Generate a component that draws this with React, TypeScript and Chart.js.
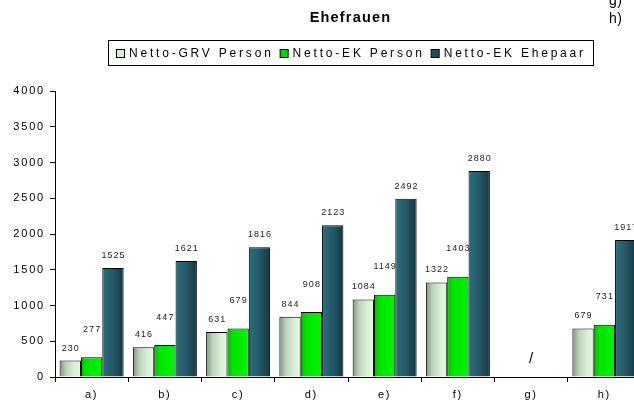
import React, { useEffect, useRef } from "react";
import { Chart, registerables } from "chart.js";

Chart.register(...registerables);

// ---------- data ----------
const chartTitle = "Ehefrauen";
const categories = ["a)", "b)", "c)", "d)", "e)", "f)", "g)", "h)"];
const seriesNames = ["Netto-GRV Person", "Netto-EK Person", "Netto-EK Ehepaar"];
const grvPerson: (number | null)[] = [230, 416, 631, 844, 1084, 1322, null, 679];
const ekPerson: (number | null)[] = [277, 447, 679, 908, 1149, 1403, null, 731];
const ekEhepaar: (number | null)[] = [1525, 1621, 1816, 2123, 2492, 2880, null, 1917];
const yMin = 0;
const yMax = 4000;
const yStep = 500;
const missingCategory = "g)";
const missingMarker = "/";
const cornerNotes = ["g)", "h)"];

// ---------- styles ----------
const FONT = "Arial, 'Liberation Sans', sans-serif";
const gradientStops: [number, string][][] = [
  [
    [0, "#7f917e"],
    [0.3, "#bcd3ba"],
    [0.7, "#d9f1d6"],
    [1, "#e3f9e0"],
  ],
  [
    [0, "#00b800"],
    [0.25, "#00e400"],
    [1, "#00f400"],
  ],
  [
    [0, "#2d6d7d"],
    [0.5, "#255968"],
    [1, "#153640"],
  ],
];
const swatchColors = ["#d4efd0", "#00d800", "#1f4f5c"];
const labelLift = [12.5, 28, 12.5];

const decorPlugin = {
  id: "decor",
  beforeDraw(chart: any) {
    chart.ctx.letterSpacing = "1.8px";
  },
  beforeDatasetsDraw(chart: any) {
    const ctx = chart.ctx;
    chart.data.datasets.forEach((_: any, di: number) => {
      const meta = chart.getDatasetMeta(di);
      meta.data.forEach((el: any) => {
        if (!el || el.x == null || el.width == null || isNaN(el.x)) return;
        const g = ctx.createLinearGradient(el.x - el.width / 2, 0, el.x + el.width / 2, 0);
        gradientStops[di].forEach(([o, c]) => g.addColorStop(o, c));
        if (el.options) el.options.backgroundColor = g;
      });
    });
  },
  afterDatasetsDraw(chart: any) {
    const ctx = chart.ctx;
    ctx.save();
    ctx.letterSpacing = "1px";
    ctx.font = `9px ${FONT}`;
    ctx.fillStyle = "#222";
    ctx.textAlign = "center";
    ctx.textBaseline = "middle";
    chart.data.datasets.forEach((ds: any, di: number) => {
      const meta = chart.getDatasetMeta(di);
      meta.data.forEach((el: any, i: number) => {
        const v = ds.data[i];
        if (v == null) return;
        ctx.fillText(String(v), el.x + 0.5, el.y - labelLift[di]);
      });
    });
    ctx.restore();
  },
  afterDraw(chart: any) {
    const ctx = chart.ctx;
    const xs = chart.scales.x;
    const ys = chart.scales.y;
    ctx.save();
    // title
    ctx.fillStyle = "#000";
    ctx.letterSpacing = "1.2px";
    ctx.font = `bold 14.5px ${FONT}`;
    ctx.textAlign = "center";
    ctx.textBaseline = "middle";
    ctx.fillText(chartTitle, 350.5, 17.5);

    // corner notes
    ctx.letterSpacing = "0.5px";
    ctx.font = `14px ${FONT}`;
    ctx.textAlign = "left";
    ctx.textBaseline = "alphabetic";
    cornerNotes.forEach((t, i) => ctx.fillText(t, 609, 5 + i * 17.5));

    // legend box
    ctx.lineWidth = 1;
    ctx.strokeStyle = "#000";
    ctx.strokeRect(108.5, 40.5, 485, 25);
    const ls = 2.8;
    ctx.font = `12px ${FONT}`;
    ctx.textBaseline = "middle";
    let x = 116;
    seriesNames.forEach((name, i) => {
      ctx.fillStyle = swatchColors[i];
      ctx.fillRect(x + 0.5, 49.5, 8, 8);
      ctx.strokeStyle = "#000";
      ctx.strokeRect(x + 0.5, 49.5, 8, 8);
      ctx.letterSpacing = "0px";
      const w = ctx.measureText(name).width + ls * name.length;
      ctx.letterSpacing = ls + "px";
      ctx.fillStyle = "#000";
      ctx.fillText(name, x + 13, 53.5);
      x += 13 + w + 6;
    });

    // missing marker
    const gi = categories.indexOf(missingCategory);
    if (gi >= 0) {
      ctx.letterSpacing = "0px";
      ctx.font = `15px ${FONT}`;
      ctx.textAlign = "center";
      ctx.textBaseline = "middle";
      ctx.fillStyle = "#000";
      ctx.fillText(missingMarker, xs.getPixelForValue(gi), ys.getPixelForValue(0) - 18);
    }
    ctx.restore();
  },
};

export default function App() {
  const canvasRef = useRef<HTMLCanvasElement | null>(null);

  useEffect(() => {
    const canvas = canvasRef.current;
    if (!canvas) return;
    const mk = (label: string, data: (number | null)[]) => ({
      label,
      data,
      backgroundColor: () => "#888",
      borderColor: "#000",
      borderWidth: 1,
      categoryPercentage: 0.874,
      barPercentage: 1,
    });
    const chart = new Chart(canvas, {
      type: "bar",
      data: {
        labels: categories,
        datasets: [
          mk(seriesNames[0], grvPerson),
          mk(seriesNames[1], ekPerson),
          mk(seriesNames[2], ekEhepaar),
        ],
      },
      options: {
        responsive: false,
        animation: false,
        devicePixelRatio: 1,
        layout: { padding: { top: 91, right: 59, bottom: 0, left: 0 } },
        plugins: {
          legend: { display: false },
          title: { display: false },
          tooltip: { enabled: false },
        },
        scales: {
          x: {
            offset: true,
            afterFit: (s: any) => {
              s.height = 28;
            },
            grid: {
              offset: true,
              drawOnChartArea: false,
              drawTicks: true,
              tickLength: 5,
              color: "#000",
            },
            border: { color: "#000", width: 1 },
            ticks: {
              color: "#000",
              font: { family: FONT, size: 11 },
              padding: 6,
              autoSkip: false,
              maxRotation: 0,
            },
          },
          y: {
            min: yMin,
            max: yMax,
            afterFit: (s: any) => {
              s.width = 55;
            },
            grid: {
              drawOnChartArea: false,
              drawTicks: true,
              tickLength: 5,
              color: "#000",
            },
            border: { color: "#000", width: 1 },
            ticks: {
              stepSize: yStep,
              color: "#000",
              font: { family: FONT, size: 11 },
              padding: 5,
              callback: (v: any) => String(v),
            },
          },
        },
      },
      plugins: [decorPlugin],
    } as any);
    return () => chart.destroy();
  }, []);

  return (
    <div
      style={{
        position: "fixed",
        left: 0,
        top: 0,
        width: 634,
        height: 405,
        overflow: "hidden",
        background: "#fff",
      }}
    >
      <canvas ref={canvasRef} width={700} height={405} style={{ display: "block" }} />
    </div>
  );
}
